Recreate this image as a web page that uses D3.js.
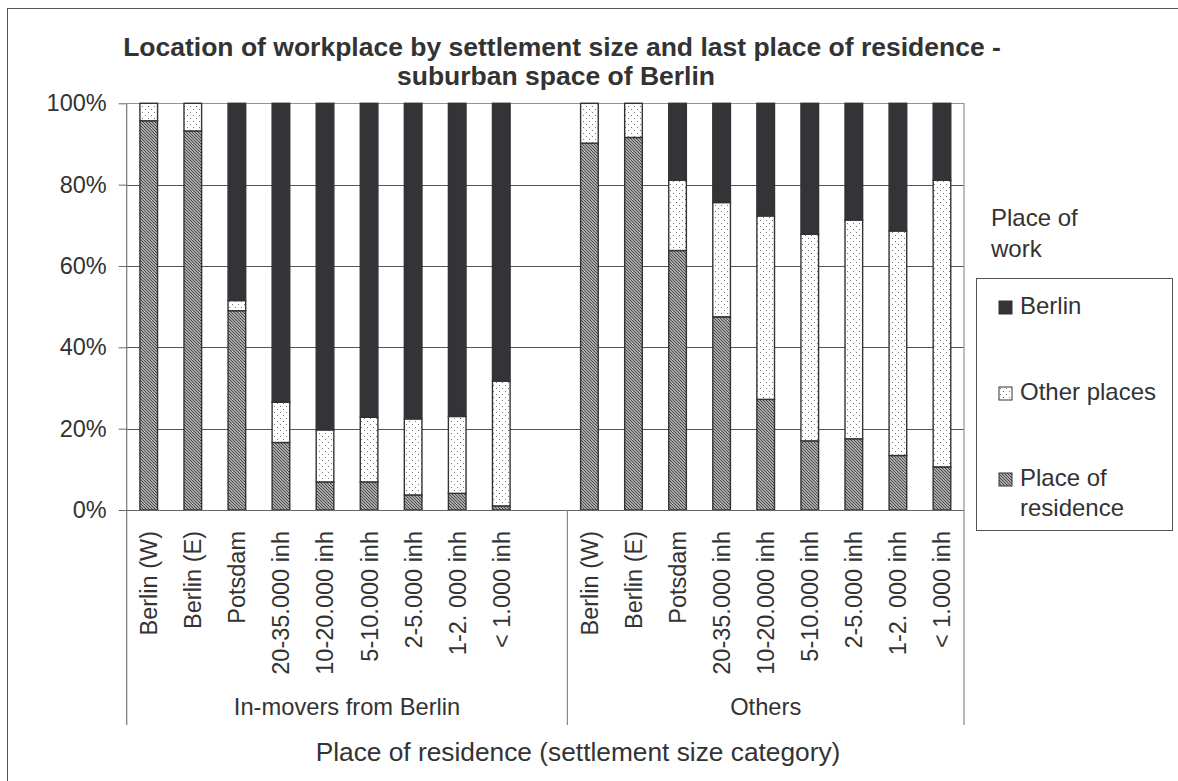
<!DOCTYPE html>
<html>
<head>
<meta charset="utf-8">
<script src="https://cdn.jsdelivr.net/npm/d3@7/dist/d3.min.js"></script>
<style>
  html, body { margin: 0; padding: 0; background: #fff; }
  svg { display: block; font-family: "Liberation Sans", Arial, sans-serif; }
</style>
</head>
<body>
<svg id="chart" width="1178" height="781"></svg>
<script>
// ---- data ----
const categories = ["Berlin (W)", "Berlin (E)", "Potsdam", "20-35.000 inh", "10-20.000 inh",
  "5-10.000 inh", "2-5.000 inh", "1-2. 000 inh", "< 1.000 inh"];
const groups = ["In-movers from Berlin", "Others"];
const seriesNames = ["Place of residence", "Other places", "Berlin"];
const residenceInmovers = [95.7, 93.2, 49.0, 16.6, 6.9, 6.9, 3.7, 4.1, 1.0];
const otherInmovers     = [4.3, 6.8, 2.5, 9.9, 12.8, 15.9, 18.7, 18.9, 30.7];
const berlinInmovers    = [0, 0, 48.5, 73.5, 80.3, 77.2, 77.6, 77.0, 68.3];
const residenceOthers   = [90.2, 91.6, 63.8, 47.5, 27.2, 17.0, 17.5, 13.4, 10.6];
const otherOthers       = [9.8, 8.4, 17.3, 28.1, 45.1, 50.8, 53.8, 55.2, 70.5];
const berlinOthers      = [0, 0, 18.9, 24.4, 27.7, 32.2, 28.7, 31.4, 18.9];
const yTicks = [0, 20, 40, 60, 80, 100];

// ---- build rows (slots: 9 + gap + 9) ----
const rows = [];
categories.forEach((c, i) => rows.push({ key: "a" + i, label: c, group: 0,
  "Place of residence": residenceInmovers[i], "Other places": otherInmovers[i], "Berlin": berlinInmovers[i] }));
rows.push({ key: "gap", label: "", group: 0, blank: true,
  "Place of residence": 0, "Other places": 0, "Berlin": 0 });
categories.forEach((c, i) => rows.push({ key: "b" + i, label: c, group: 1,
  "Place of residence": residenceOthers[i], "Other places": otherOthers[i], "Berlin": berlinOthers[i] }));

const svg = d3.select("#chart");
const textColor = "#333";

// ---- patterns ----
const defs = svg.append("defs");
const pRes = defs.append("pattern").attr("id", "pRes").attr("patternUnits", "userSpaceOnUse")
  .attr("width", 3).attr("height", 3);
pRes.append("rect").attr("width", 3).attr("height", 3).attr("fill", "#d0d0d0");
pRes.append("path").attr("d", "M-1,-1 L4,4 M-1,2 L1,4 M2,-1 L4,1")
  .attr("stroke", "#454545").attr("stroke-width", 1.1);
const pOther = defs.append("pattern").attr("id", "pOther").attr("patternUnits", "userSpaceOnUse")
  .attr("width", 6).attr("height", 6);
pOther.append("rect").attr("width", 6).attr("height", 6).attr("fill", "#fff");
pOther.append("rect").attr("x", 1).attr("y", 1).attr("width", 1).attr("height", 1).attr("fill", "#777");
pOther.append("rect").attr("x", 4).attr("y", 4).attr("width", 1).attr("height", 1).attr("fill", "#777");

const fills = { "Place of residence": "url(#pRes)", "Other places": "url(#pOther)", "Berlin": "#343438" };

// ---- outer border ----
svg.append("rect").attr("x", 7.5).attr("y", 8.5).attr("width", 1200).attr("height", 800)
  .attr("fill", "none").attr("stroke", "#555").attr("stroke-width", 1);

// ---- scales ----
const x0 = 126.7, x1 = 964, yTop = 103.3, yBot = 510;
const x = d3.scaleBand().domain(rows.map(d => d.key)).range([x0, x1])
  .paddingInner(0.6).paddingOuter(0.3);
const y = d3.scaleLinear().domain([0, 100]).range([yBot, yTop]);

// ---- gridlines ----
svg.append("g").selectAll("line").data(yTicks.filter(t => t > 0 && t < 100)).join("line")
  .attr("x1", x0).attr("x2", x1).attr("y1", d => Math.round(y(d)) + 0.5).attr("y2", d => Math.round(y(d)) + 0.5)
  .attr("stroke", "#555").attr("stroke-width", 1);
// plot border top/right
svg.append("path")
  .attr("d", `M${x0},${Math.round(yTop) + 0.5} H${x1} V${yBot}`)
  .attr("fill", "none").attr("stroke", "#9c8f8f").attr("stroke-width", 1.2);

// ---- bars ----
const stack = d3.stack().keys(seriesNames);
const stacked = stack(rows.filter(r => !r.blank));
svg.append("g").selectAll("g").data(stacked).join("g")
  .attr("fill", d => fills[d.key])
  .selectAll("rect").data(d => d.filter(p => p[1] - p[0] > 0)).join("rect")
  .attr("x", p => x(p.data.key))
  .attr("width", x.bandwidth())
  .attr("y", p => y(p[1]))
  .attr("height", p => y(p[0]) - y(p[1]))
  .attr("stroke", "#333").attr("stroke-width", 1.4);

// ---- y axis ----
const yAxis = d3.axisLeft(y).tickValues(yTicks).tickFormat(d => d + "%").tickSize(8).tickPadding(12);
const gy = svg.append("g").attr("transform", `translate(${x0},0)`).call(yAxis);
gy.select(".domain").remove();
gy.selectAll(".tick line").attr("stroke", "#666");
gy.selectAll(".tick text").attr("fill", textColor).style("font-size", "23.5px")
  .style("font-family", "'Liberation Sans', Arial, sans-serif");
svg.append("line").attr("x1", x0).attr("x2", x0).attr("y1", yTop).attr("y2", 725)
  .attr("stroke", "#777").attr("stroke-width", 1.2);

// ---- x axis ----
svg.append("line").attr("x1", x0).attr("x2", x1).attr("y1", yBot + 0.5).attr("y2", yBot + 0.5)
  .attr("stroke", "#666").attr("stroke-width", 1.2);
const gx = svg.append("g").attr("transform", `translate(0,${yBot})`)
  .call(d3.axisBottom(x).tickSize(0).tickFormat(k => rows.find(r => r.key === k).label));
gx.select(".domain").remove();
gx.selectAll(".tick text")
  .attr("transform", "rotate(-90)")
  .attr("x", -21).attr("y", 0).attr("dy", "0.36em")
  .style("text-anchor", "end")
  .style("font-size", "23.5px")
  .style("font-family", "'Liberation Sans', Arial, sans-serif")
  .attr("fill", textColor);

// group separators
const sepX = [x0, (x(rows[9].key) + x(rows[10].key) + x.bandwidth()) / 2, x1];
svg.append("g").selectAll("line").data(sepX.slice(1)).join("line")
  .attr("x1", d => d).attr("x2", d => d).attr("y1", yBot).attr("y2", 725)
  .attr("stroke", "#888").attr("stroke-width", 1.2);

// group labels
svg.append("g").selectAll("text").data(groups).join("text")
  .attr("x", (d, i) => (sepX[i] + sepX[i + 1]) / 2)
  .attr("y", 715)
  .attr("text-anchor", "middle")
  .attr("fill", textColor)
  .style("font-size", "23.7px")
  .text(d => d);

// axis title
svg.append("text").attr("x", 578).attr("y", 761).attr("text-anchor", "middle")
  .attr("fill", textColor).style("font-size", "26.3px")
  .text("Place of residence (settlement size category)");

// chart title
const title = svg.append("text").attr("text-anchor", "middle").attr("fill", textColor)
  .style("font-size", "26.5px").style("font-weight", "bold");
title.append("tspan").attr("x", 562).attr("y", 56)
  .text("Location of workplace by settlement size and last place of residence -");
title.append("tspan").attr("x", 556).attr("y", 85)
  .text("suburban space of Berlin");

// ---- legend ----
const lg = svg.append("g");
lg.append("text").attr("fill", textColor).style("font-size", "24px")
  .selectAll("tspan").data(["Place of", "work"]).join("tspan")
  .attr("x", 991).attr("y", (d, i) => 226 + i * 31).text(d => d);
lg.append("rect").attr("x", 976.5).attr("y", 278.5).attr("width", 196).attr("height", 252)
  .attr("fill", "#fff").attr("stroke", "#555").attr("stroke-width", 1);
const legendItems = [
  { name: "Berlin", lines: ["Berlin"], y: 301 },
  { name: "Other places", lines: ["Other places"], y: 387 },
  { name: "Place of residence", lines: ["Place of", "residence"], y: 473 }
];
legendItems.forEach(it => {
  lg.append("rect").attr("x", 999).attr("y", it.y).attr("width", 13).attr("height", 13)
    .attr("fill", fills[it.name]).attr("stroke", "#333").attr("stroke-width", 1);
  lg.append("text").attr("fill", textColor).style("font-size", "24px")
    .selectAll("tspan").data(it.lines).join("tspan")
    .attr("x", 1020).attr("y", (d, i) => it.y + 13 + i * 30).text(d => d);
});
</script>
</body>
</html>
